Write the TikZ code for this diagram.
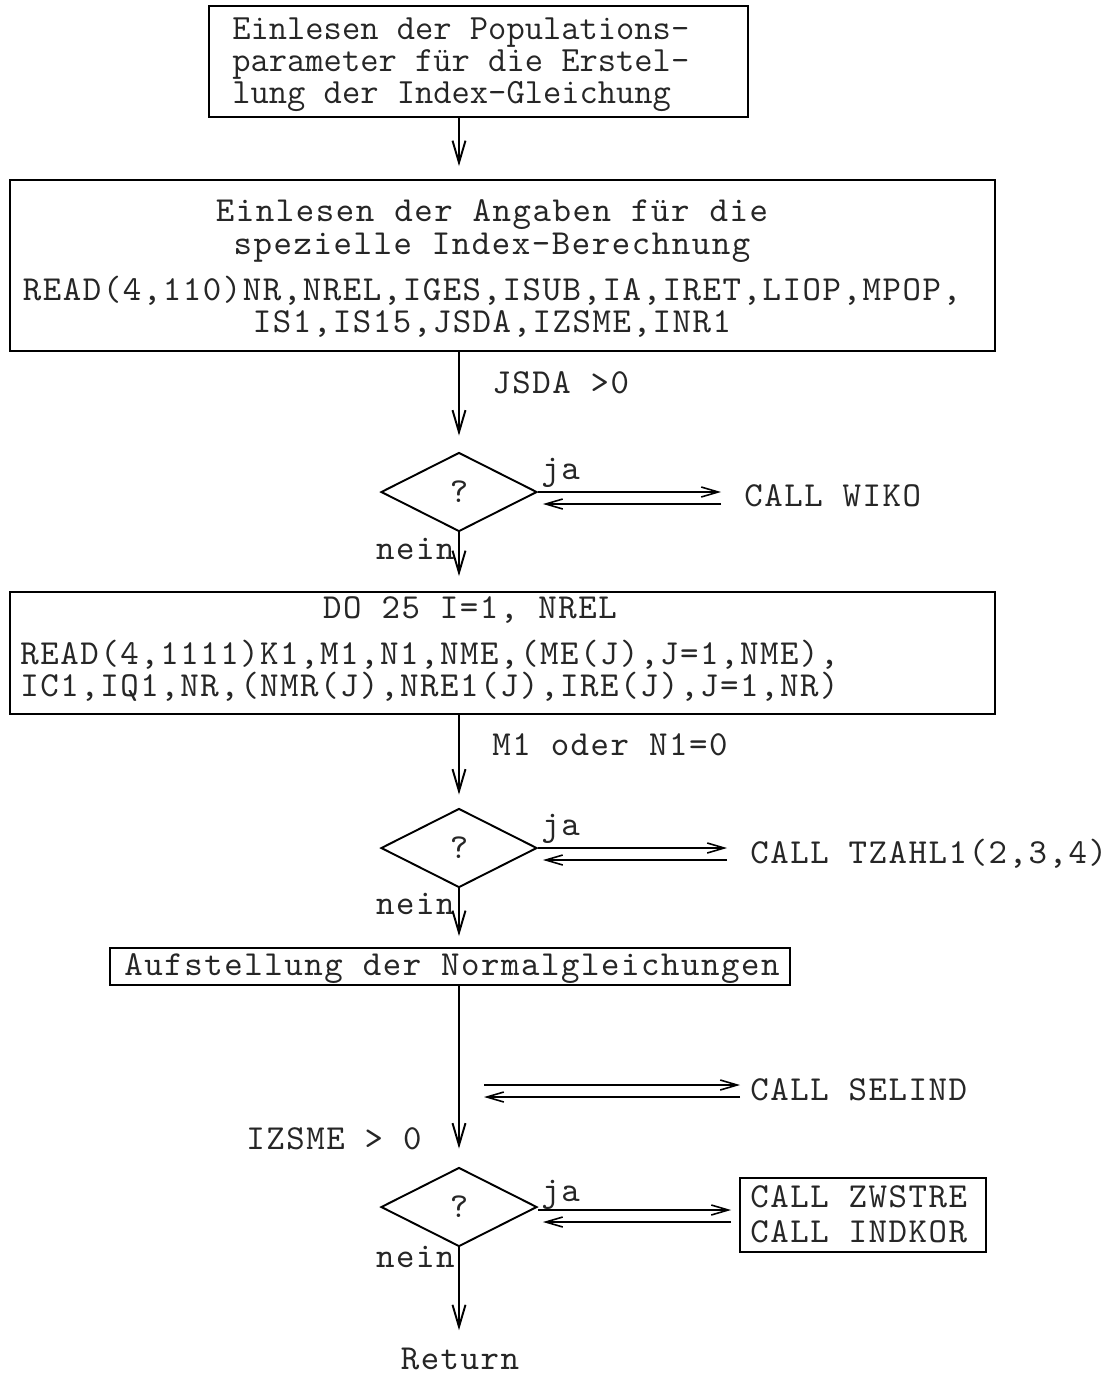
\documentclass[tikz,border=0pt]{standalone}
\usepackage{fontspec}
\newfontfamily\typew{lmmono10-regular.otf}[LetterSpace=4.4]
\usetikzlibrary{shapes.geometric,arrows.meta,calc}
\begin{document}
\begin{tikzpicture}[x=0.02cm,y=-0.02cm,
  every node/.style={inner sep=0pt},
  tt/.style={text=black!85, font=\typew\fontsize{20}{24}\selectfont},
  ttb/.style={text=black!85, font=\ttfamily\fontsize{20.2}{24}\selectfont},
  box/.style={draw, line width=1.1pt, rectangle},
  dec/.style={draw, line width=1.1pt, diamond, minimum width=3.12cm, minimum height=1.58cm, tt},
  flow/.style={line width=1.1pt, -{Straight Barb[length=0.44cm,width=0.26cm]}},
  link/.style={line width=0.9pt, -{Straight Barb[length=0.34cm,width=0.2cm]}},
]
\useasboundingbox (0,0) rectangle (1111,1377);

% boxes
\node[box, minimum width=10.78cm, minimum height=2.22cm] (b1) at (478.5,61.5) {};
\node[box, minimum width=19.7cm, minimum height=3.42cm] (b2) at (502.5,265.5) {};
\node[box, minimum width=19.7cm, minimum height=2.44cm] (b3) at (502.5,653) {};
\node[box, minimum width=13.6cm, minimum height=0.74cm] (b4) at (450,966.5) {};
\node[box, minimum width=4.92cm, minimum height=1.48cm] (b5) at (863,1215) {};

% decisions
\node[dec] (d1) at (459,492) {?};
\node[dec] (d2) at (459,848) {?};
\node[dec] (d3) at (459,1207) {?};

% box texts
\node[ttb, anchor=base west] (t1a) at (232,39) {Einlesen der Populations-};
\node[ttb, anchor=base west] (t1b) at (232,71) {parameter für die Erstel-};
\node[ttb, anchor=base west] (t1c) at (232,103) {lung der Index-Gleichung};

\node[tt, anchor=base] (t2a) at (492,221) {Einlesen der Angaben für die};
\node[tt, anchor=base] (t2b) at (492,254) {spezielle Index-Berechnung};
\node[tt, anchor=base] (t2c) at (492,300) {READ(4,110)NR,NREL,IGES,ISUB,IA,IRET,LIOP,MPOP,};
\node[tt, anchor=base] (t2d) at (492,332) {IS1,IS15,JSDA,IZSME,INR1};

\node[tt, anchor=base] (t3a) at (470,618) {DO 25 I=1, NREL};
\node[tt, anchor=base west] (t3b) at (20,664) {READ(4,1111)K1,M1,N1,NME,(ME(J),J=1,NME),};
\node[tt, anchor=base west] (t3c) at (20,696) {IC1,IQ1,NR,(NMR(J),NRE1(J),IRE(J),J=1,NR)};

\node[tt, anchor=base] (t4) at (452,975) {Aufstellung der Normalgleichungen};

\node[tt, anchor=base west] (t5a) at (750,1207) {CALL ZWSTRE};
\node[tt, anchor=base west] (t5b) at (750,1242) {CALL INDKOR};

% labels
\node[tt, anchor=base west] (c1) at (492,393) {JSDA >0};
\node[tt, anchor=base west] (c2) at (492,755) {M1 oder N1=0};
\node[tt, anchor=base east] (c3) at (422,1149) {IZSME > 0};
\node[tt, anchor=base west] (ja1) at (541,479) {ja};
\node[tt, anchor=base west] (ja2) at (541,835) {ja};
\node[tt, anchor=base west] (ja3) at (541,1201) {ja};
\node[tt, anchor=base east] (n1) at (455,559) {nein};
\node[tt, anchor=base east] (n2) at (455,914) {nein};
\node[tt, anchor=base east] (n3) at (455,1267) {nein};

% called routines
\node[tt, anchor=base west] (wiko) at (744,506) {CALL WIKO};
\node[tt, anchor=base west] (tzahl) at (750,863) {CALL TZAHL1(2,3,4)};
\node[tt, anchor=base west] (selind) at (750,1100) {CALL SELIND};
\node[tt, anchor=base] (ret) at (460,1369) {Return};

% main flow
\draw[flow, shorten >=0.26cm] (b1.south -| d1.north) -- (b2.north -| d1.north);
\draw[flow, shorten >=0.32cm] (b2.south -| d1.north) -- (d1.north);
\draw[flow, shorten >=0.30cm] (d1.south) -- (b3.north -| d1.south);
\draw[flow, shorten >=0.26cm] (b3.south -| d2.north) -- (d2.north);
\draw[flow, shorten >=0.22cm] (d2.south) -- (b4.north -| d2.south);
\draw[flow, shorten >=0.36cm] (b4.south -| d3.north) -- (d3.north);
\draw[flow, shorten >=0.34cm] (d3.south) -- (ret.north -| d3.south);

% calls and returns
\draw[link, shorten >=0.46cm] (d1.east) -- (d1.east -| wiko.west);
\draw[link, shorten <=0.46cm, shorten >=0.1cm] ($(d1.east -| wiko.west)+(0,12)$) -- ($(d1.east)+(0,12)$);

\draw[link, shorten >=0.46cm] (d2.east) -- (d2.east -| tzahl.west);
\draw[link, shorten <=0.46cm, shorten >=0.1cm] ($(d2.east -| tzahl.west)+(0,12)$) -- ($(d2.east)+(0,12)$);

\coordinate (sl) at (484,1085);
\draw[link, shorten >=0.2cm] (sl) -- (sl -| selind.west);
\draw[link, shorten <=0.2cm] ($(sl -| selind.west)+(0,12)$) -- ($(sl)+(0,12)$);

\draw[link, shorten >=0.16cm] ($(d3.east)+(0,3)$) -- ($(d3.east -| b5.west)+(0,3)$);
\draw[link, shorten <=0.16cm, shorten >=0.1cm] ($(d3.east -| b5.west)+(0,15)$) -- ($(d3.east)+(0,15)$);
\end{tikzpicture}
\end{document}
